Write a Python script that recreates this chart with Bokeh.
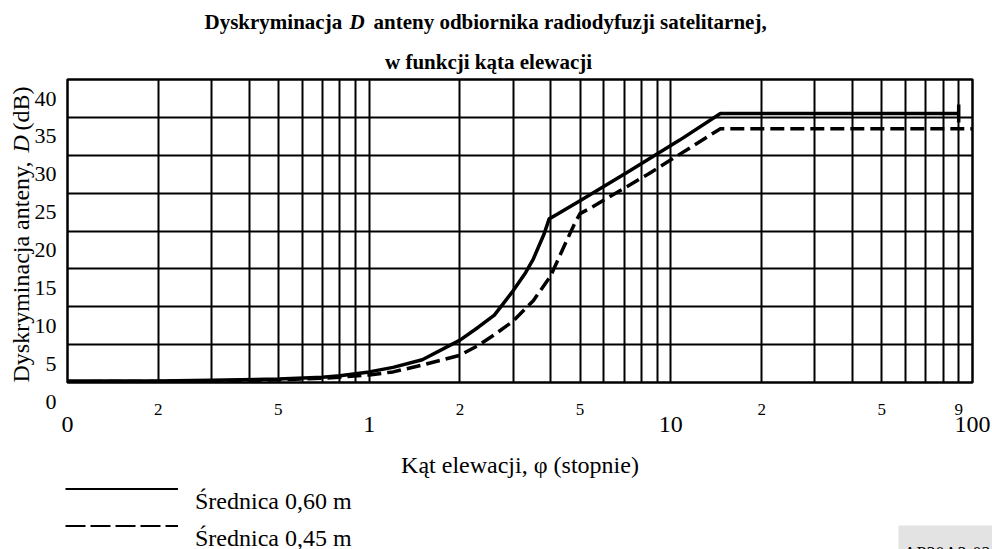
import math
from bokeh.plotting import figure
from bokeh.layouts import column, row
from bokeh.models import (FixedTicker, LogAxis, Label, LabelSet, Legend,
                          LegendItem, ColumnDataSource, BoxAnnotation)
from bokeh.core.properties import value
from bokeh.embed import file_html
from bokeh.resources import INLINE

FONT = "Liberation Serif"

# ---------------- texts ----------------
title_line1 = ["Dyskryminacja", "D", "anteny odbiornika radiodyfuzji satelitarnej,"]
title_line2 = "w funkcji kąta elewacji"
y_title = ["Dyskryminacja anteny,", "D", "(dB)"]
x_title = "Kąt elewacji, φ (stopnie)"
series_names = ["Średnica 0,60 m", "Średnica 0,45 m"]
figure_code = "AP30A3-02"

# ---------------- axes ----------------
x_limits = [0.1, 100]
y_limits = [0, 40]
y_ticks = [0, 5, 10, 15, 20, 25, 30, 35, 40]
y_tick_labels = ["0", "5", "10", "15", "20", "25", "30", "35", "40"]
x_major_ticks = [0.1, 1, 10, 100]
x_major_labels = ["0", "1", "10", "100"]
x_minor_ticks = [0.2, 0.5, 2, 5, 20, 50, 90]
x_minor_labels = ["2", "5", "2", "5", "2", "5", "9"]
x_grid = [0.1, 0.2, 0.3, 0.4, 0.5, 0.6, 0.7, 0.8, 0.9,
          1, 2, 3, 4, 5, 6, 7, 8, 9,
          10, 20, 30, 40, 50, 60, 70, 80, 90, 100]

# ---------------- data ----------------
d060_x = [0.1, 0.2, 0.3, 0.5, 0.7, 0.8, 1.0, 1.2, 1.5, 2.0, 2.3, 2.6, 3.0, 3.3,
          3.5, 3.8, 3.95, 4.2, 5.0, 7.2, 10.7, 14.6, 90]
d060_y = [0.2, 0.2, 0.3, 0.45, 0.7, 0.9, 1.4, 2.0, 3.0, 5.6, 7.3, 8.9, 12.1, 14.5,
          16.3, 19.6, 21.6, 22.2, 24.0, 27.8, 32.0, 35.5, 35.5]

d045_x = [0.1, 0.2, 0.3, 0.5, 0.7, 0.8, 1.0, 1.2, 1.5, 2.0, 2.3, 2.6, 3.0, 3.5,
          4.0, 4.5, 4.8, 5.0, 5.4, 8.4, 14.6, 100]
d045_y = [0.1, 0.15, 0.2, 0.35, 0.55, 0.7, 1.0, 1.4, 2.3, 3.6, 4.9, 6.3, 8.1, 10.8,
          14.1, 18.6, 21.0, 22.3, 23.0, 27.5, 33.5, 33.5]

# ---------------- layout geometry (px) ----------------
TOP_H = 76          # title strip height
LEFT_W = 60         # y-label strip width
FRAME_W, FRAME_H = 905, 303
B_LEFT, B_RIGHT, B_TOP, B_BOTTOM = 7, 20, 3, 97
MAIN_H = B_TOP + FRAME_H + B_BOTTOM
LEG_H = 70
X0 = 1000           # legend strip x origin (keeps the series out of its view)


def blank(width, height, **kw):
    f = figure(width=width, height=height, x_axis_type=None, y_axis_type=None,
               title=None, output_backend="svg", toolbar_location=None,
               min_border=0, **kw)
    f.outline_line_color = None
    f.background_fill_color = "white"
    f.border_fill_color = "white"
    f.frame_align = False
    return f


# ---------------- title strip ----------------
p0 = blank(992, TOP_H, x_range=(0, 1), y_range=(0, 1))
t1_x = [204, 349, 373]
t1_style = ["bold", "bold italic", "bold"]
for txt, xx, st in zip(title_line1, t1_x, t1_style):
    p0.add_layout(Label(x=xx, y=54.6, x_units="screen", y_units="screen", text=txt,
                        text_align="left", text_baseline="middle",
                        text_font=FONT, text_font_size="21px", text_font_style=st,
                        text_color="black"))
p0.add_layout(Label(x=488, y=14.8, x_units="screen", y_units="screen", text=title_line2,
                    text_align="center", text_baseline="middle",
                    text_font=FONT, text_font_size="21px", text_font_style="bold",
                    text_color="black"))

# ---------------- y labels strip (same vertical scale as the chart) ----------------
ppu = FRAME_H / (y_limits[1] - y_limits[0])
pL = blank(LEFT_W, MAIN_H, x_range=(0, 1),
           y_range=(y_limits[0] - B_BOTTOM / ppu, y_limits[1] + B_TOP / ppu))
ysrc = ColumnDataSource(dict(y=y_ticks, text=y_tick_labels))
pL.add_layout(LabelSet(x=56, y="y", text="text", source=ysrc, x_units="screen",
                       y_offset=-19, text_align="right", text_baseline="middle",
                       text_font=value(FONT), text_font_size=value("22px"),
                       text_color="black"))
yt_pos = [97, 327, 349]
yt_style = ["normal", "italic", "normal"]
for txt, pos, st in zip(y_title, yt_pos, yt_style):
    pL.add_layout(Label(x=20.4, y=pos, x_units="screen", y_units="screen", text=txt,
                        angle=math.pi / 2, text_align="left", text_baseline="middle",
                        text_font=FONT, text_font_size="24px", text_font_style=st,
                        text_color="black"))

# ---------------- main chart ----------------
p = figure(frame_width=FRAME_W, frame_height=FRAME_H, x_axis_type="log",
           x_range=(x_limits[0], x_limits[1]), y_range=(y_limits[0], y_limits[1]),
           title=None, output_backend="svg", toolbar_location=None,
           min_border_left=B_LEFT, min_border_right=B_RIGHT, min_border_top=B_TOP,
           min_border_bottom=B_BOTTOM)
p.frame_align = False
p.outline_line_color = "black"
p.outline_line_width = 2.5
p.background_fill_color = "white"
p.border_fill_color = "white"

p.xgrid.ticker = FixedTicker(ticks=x_grid)
p.ygrid.ticker = FixedTicker(ticks=y_ticks)
for g in (p.xgrid, p.ygrid):
    g.grid_line_color = "black"
    g.grid_line_width = 2
    g.grid_line_alpha = 1
p.yaxis.visible = False

# minor x labels (2, 5)
ax_minor = p.xaxis[0]
ax_minor.ticker = FixedTicker(ticks=x_minor_ticks)
ax_minor.major_label_overrides = dict(zip(x_minor_ticks, x_minor_labels))
ax_minor.major_label_text_font = FONT
ax_minor.major_label_text_font_size = "17px"
ax_minor.major_label_text_color = "black"
ax_minor.axis_line_color = None
ax_minor.major_tick_line_color = None
ax_minor.minor_tick_line_color = None
ax_minor.major_tick_out = 0
ax_minor.major_tick_in = 0
ax_minor.major_label_standoff = 21

# major x labels (0, 1, 10, 100)
ax_major = LogAxis(ticker=FixedTicker(ticks=x_major_ticks),
                   major_label_overrides=dict(zip(x_major_ticks, x_major_labels)))
ax_major.major_label_text_font = FONT
ax_major.major_label_text_font_size = "24px"
ax_major.major_label_text_color = "black"
ax_major.axis_line_color = None
ax_major.major_tick_line_color = None
ax_major.minor_tick_line_color = None
ax_major.major_tick_out = 0
ax_major.major_tick_in = 0
ax_major.major_label_standoff = -1
ax_major.axis_label = x_title
ax_major.axis_label_text_font = FONT
ax_major.axis_label_text_font_size = "24px"
ax_major.axis_label_text_font_style = "normal"
ax_major.axis_label_text_color = "black"
ax_major.axis_label_standoff = 17
p.add_layout(ax_major, "below")

r1 = p.line(d060_x, d060_y, line_color="black", line_width=3.5, line_join="round")
r2 = p.line(d045_x, d045_y, line_color="black", line_width=3.5, line_dash="14 6")
p.scatter([d060_x[-1]], [d060_y[-1]], marker="dash", angle=math.pi / 2, size=18,
          line_color="black", line_width=3.5)

# ---------------- legend strip ----------------
# x = X0 + page pixels, y = -(pixels below the strip top); the series lie outside the view
p2 = blank(992, LEG_H, x_range=(X0, X0 + 992), y_range=(-LEG_H, 0))
k1 = p2.line(d060_x, d060_y, line_color="black", line_width=5)
k2 = p2.line(d045_x, d045_y, line_color="black", line_width=5, line_dash="20 5")
legend_style = dict(orientation="vertical", glyph_height=2, label_height=30,
                    label_text_font=FONT, label_text_font_size="24px",
                    label_text_color="black", spacing=7, padding=0, margin=0,
                    border_line_color=None, background_fill_alpha=0)
# line samples
p2.add_layout(Legend(items=[LegendItem(label=" ", renderers=[k1]),
                            LegendItem(label=" ", renderers=[k2])],
                     location=(65, 9.3), glyph_width=113, label_standoff=0,
                     **legend_style), "center")
# labels, set a little lower than their samples as in the original
p2.add_layout(Legend(items=[LegendItem(label=series_names[0], renderers=[k1]),
                            LegendItem(label=series_names[1], renderers=[k2])],
                     location=(195, -3.5), glyph_width=0, label_standoff=0,
                     **legend_style), "center")
p2.add_layout(BoxAnnotation(left=X0 + 898, right=X0 + 992, top=-45, bottom=-LEG_H,
                            fill_color="#e3e3e3", fill_alpha=1, line_color=None))
p2.add_layout(Label(x=X0 + 903, y=-63, text=figure_code, text_align="left",
                    text_baseline="top", text_font=FONT, text_font_size="18px",
                    text_color="black"))

layout = column(p0, row(pL, p), p2)
open("out.html", "w").write(file_html(layout, INLINE))
